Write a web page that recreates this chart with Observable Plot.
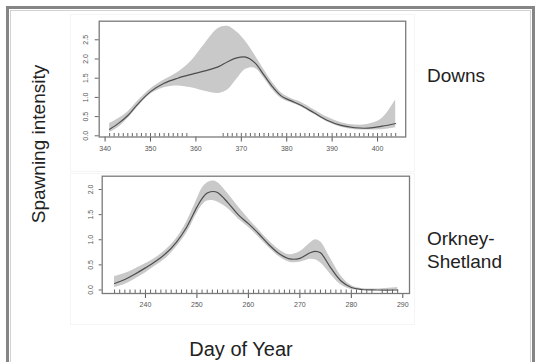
<!DOCTYPE html>
<html><head><meta charset="utf-8">
<script src="https://cdn.jsdelivr.net/npm/d3@7"></script>
<script src="https://cdn.jsdelivr.net/npm/@observablehq/plot@0.6"></script>
<style>
body{margin:0;background:#fff;}
#root{position:relative;width:538px;height:362px;overflow:hidden;background:#fff;font-family:"Liberation Sans",Arial,sans-serif;}
.fo{position:absolute;left:6px;top:6px;width:523px;height:420px;border:3px solid #858585;border-bottom:none;}
.fi{position:absolute;left:10px;top:10px;width:519px;height:420px;border:1px solid #d2d2d2;border-bottom:none;}
.pb{position:absolute;border:1px solid #f5f5f5;}
.lbl{position:absolute;font-size:19px;color:#222;white-space:nowrap;line-height:1;}
.plotbox{position:absolute;left:0;}
</style></head>
<body><div id="root">
<div class="fo"></div><div class="fi"></div>
<div class="pb" style="left:70px;top:14px;width:343px;height:156px"></div>
<div class="pb" style="left:70px;top:173px;width:343px;height:150px"></div>
<div class="plotbox" id="top" style="top:0"></div>
<div class="plotbox" id="bot" style="top:165px"></div>
<div class="lbl" style="left:38px;top:144px;transform:translate(-50%,-50%) rotate(-90deg)">Spawning intensity</div>
<div class="lbl" style="left:427px;top:66px">Downs</div>
<div class="lbl" style="left:427px;top:226.5px;line-height:23px">Orkney-<br>Shetland</div>
<div class="lbl" style="left:241px;top:339px;font-size:20px;transform:translateX(-50%)">Day of Year</div>
</div>
<script>
// Downs panel
const downsDays  = [341,343,345,347,350,353,356,359,362,365,367,369,371,373,375,377,379,381,383,386,389,392,395,398,401,404];
const downsMean  = [0.17,0.33,0.53,0.80,1.15,1.37,1.50,1.60,1.69,1.80,1.93,2.03,2.05,1.90,1.58,1.26,1.02,0.91,0.80,0.60,0.40,0.27,0.21,0.20,0.25,0.32];
const downsUpper = [0.32,0.45,0.62,0.88,1.22,1.45,1.65,1.95,2.40,2.80,2.85,2.70,2.45,2.10,1.72,1.37,1.10,0.97,0.88,0.68,0.48,0.34,0.28,0.30,0.45,0.94];
const downsLower = [0.08,0.22,0.45,0.72,1.08,1.25,1.30,1.25,1.16,1.10,1.19,1.47,1.73,1.76,1.50,1.18,0.96,0.86,0.76,0.56,0.36,0.22,0.16,0.15,0.16,0.21];
const downsRug = [341,342,343,344,345,346,347,348,349,350,351,352,353,354,355,356,357,358,
  366,367,368,369,370,371,372,373,374,375,376,377,378,379,380,381,382,383,384,385,386,387,388,389,390,391,392,393,394,395,396,397,398,399,400,401,402,403,404];
const downsXTicks = [340,350,360,370,380,390,400];
const downsYTicks = [0,0.5,1,1.5,2,2.5];

// Orkney-Shetland panel
const orkDays  = [234,236,238,240,242,244,246,248,250,251,252,253,254,256,258,260,262,264,266,268,270,272,273,274,276,278,280,282,285,289];
const orkMean  = [0.13,0.21,0.32,0.44,0.57,0.73,0.95,1.25,1.65,1.82,1.93,1.96,1.94,1.74,1.50,1.32,1.12,0.90,0.72,0.62,0.63,0.74,0.77,0.74,0.44,0.18,0.05,0.01,0.00,0.00];
const orkUpper = [0.27,0.33,0.42,0.52,0.64,0.80,1.02,1.35,1.80,2.02,2.13,2.17,2.14,1.92,1.66,1.42,1.20,0.98,0.80,0.70,0.76,0.93,1.00,0.96,0.62,0.28,0.09,0.03,0.02,0.05];
const orkLower = [0.05,0.11,0.22,0.34,0.48,0.63,0.85,1.13,1.52,1.68,1.77,1.78,1.75,1.62,1.42,1.25,1.05,0.84,0.66,0.55,0.55,0.61,0.60,0.54,0.31,0.10,0.01,0.00,0.00,0.00];
const orkRug = [234,235,236,237,238,239,240,241,242,243,244,245,246,247,248,249,250,251,252,253,254,255,256,257,258,259,
  260,261,262,263,264,265,266,267,268,269,270,271,272,273,274,275,276,277,278,279,280,281,282,283,284,286,287,288,289];
const orkXTicks = [240,250,260,270,280,290];
const orkYTicks = [0,0.5,1,1.5,2];

function panel({days, mean, upper, lower, rug, xTicks, yTicks, xDomain, yDomain, height, mTop, mBottom, mLeft, mRight, pxPerUnit, yTickSize, yLabelDx}) {
  const rows = days.map((d,i) => ({day:d, mean:mean[i], lo:lower[i], hi:upper[i]}));
  const rugLen = 3.5 / pxPerUnit;
  return Plot.plot({
    width: 538, height,
    marginTop: mTop, marginBottom: mBottom, marginLeft: mLeft, marginRight: mRight,
    style: {background: "transparent", fontFamily: "'Liberation Sans', Arial, sans-serif"},
    x: {domain: xDomain, axis: null, label: null},
    y: {domain: yDomain, axis: null, label: null},
    marks: [
      Plot.areaY(rows, {x: "day", y1: "lo", y2: "hi", fill: "#c9c9c9", curve: "catmull-rom"}),
      Plot.line(rows, {x: "day", y: "mean", stroke: "#4d4d4d", strokeWidth: 1.2, curve: "catmull-rom"}),
      Plot.ruleX(rug, {x: d => d, y1: yDomain[0], y2: yDomain[0] + rugLen, stroke: "#555", strokeWidth: 0.9}),
      Plot.axisX(xTicks, {label: null, tickSize: 5, tickPadding: 4, fontSize: 7, stroke: "#555", fill: "#555", tickFormat: d => String(d)}),
      Plot.ruleY(yTicks, {y: d => d, x1: xDomain[0], x2: xDomain[0], insetLeft: -yTickSize, stroke: "#555", strokeWidth: 0.9}),
      Plot.text(yTicks, {x: xDomain[0], y: d => d, text: d => d.toFixed(1), rotate: -90, dx: yLabelDx, fontSize: 7, fill: "#555", textAnchor: "middle", lineAnchor: "middle"}),
      Plot.frame({stroke: "#7a7a7a", strokeWidth: 1.3})
    ]
  });
}

document.getElementById("top").appendChild(panel({
  days: downsDays, mean: downsMean, upper: downsUpper, lower: downsLower, rug: downsRug,
  xTicks: downsXTicks, yTicks: downsYTicks, xDomain: [338.7, 406.2], yDomain: [-0.031, 2.984],
  height: 165, mTop: 20.7, mBottom: 28.5, mLeft: 98.7, mRight: 132.8, pxPerUnit: 38.4, yTickSize: 4, yLabelDx: -13.5
}));
document.getElementById("bot").appendChild(panel({
  days: orkDays, mean: orkMean, upper: orkUpper, lower: orkLower, rug: orkRug,
  xTicks: orkXTicks, yTicks: orkYTicks, xDomain: [231.6, 291.3], yDomain: [-0.07, 2.265],
  height: 150, mTop: 10.7, mBottom: 22, mLeft: 101.7, mRight: 129, pxPerUnit: 50.25, yTickSize: 3, yLabelDx: -11.5
}));
</script>
</body></html>
